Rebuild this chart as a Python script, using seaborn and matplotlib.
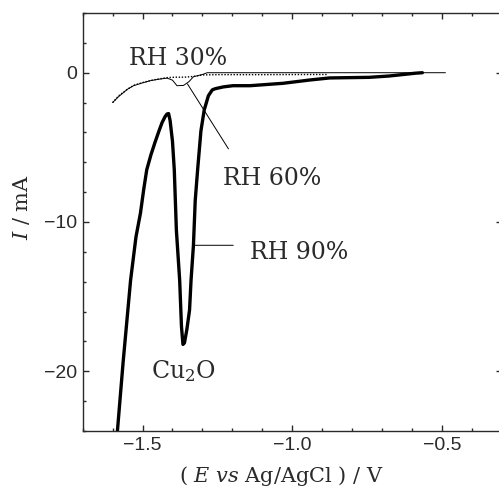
import numpy as np
import pandas as pd
import matplotlib
matplotlib.use("Agg")
import matplotlib.pyplot as plt
import seaborn as sns
from matplotlib.ticker import MultipleLocator

# ---- data ----
E90 = [-1.584, -1.565, -1.540, -1.522, -1.507, -1.496, -1.486, -1.472, -1.459,
       -1.446, -1.435, -1.425, -1.418, -1.413,
       -1.408, -1.400, -1.394, -1.387, -1.376, -1.370, -1.365, -1.360, -1.352,
       -1.343, -1.338, -1.330, -1.324, -1.316, -1.305, -1.294, -1.280, -1.267,
       -1.257, -1.230, -1.198, -1.141, -1.031, -0.942, -0.875, -0.743, -0.676,
       -0.587, -0.565]
I90 = [-24.0, -19.4, -13.9, -11.0, -9.4, -7.8, -6.5, -5.5, -4.7,
       -3.95, -3.35, -2.95, -2.76, -2.74,
       -3.2, -4.6, -6.5, -10.55, -13.9, -17.0, -18.2, -18.1, -17.2,
       -15.9, -13.9, -11.56, -8.55, -6.5, -3.9, -2.5, -1.54, -1.15,
       -1.07, -0.95, -0.87, -0.87, -0.71, -0.49, -0.35, -0.31, -0.22,
       -0.03, 0.0]

E60 = [-1.600, -1.580, -1.550, -1.530, -1.500, -1.473, -1.450, -1.418, -1.400,
       -1.385, -1.363, -1.345, -1.330, -1.300, -1.284, -1.200, -1.000, -0.800,
       -0.600, -0.488]
I60 = [-2.0, -1.6, -1.1, -0.87, -0.68, -0.53, -0.45, -0.36, -0.5,
       -0.87, -0.85, -0.6, -0.27, -0.12, 0.0, 0.0, 0.0, 0.0,
       0.0, 0.0]

E30 = [-1.600, -1.580, -1.550, -1.530, -1.500, -1.473, -1.450, -1.418, -1.390,
       -1.360, -1.330, -1.300, -1.250, -1.100, -0.950, -0.880]
I30 = [-2.0, -1.55, -1.1, -0.85, -0.66, -0.52, -0.43, -0.33, -0.30,
       -0.30, -0.25, -0.15, -0.13, -0.13, -0.12, -0.12]

labels = ["RH 30%", "RH 60%", "RH 90%"]
x_major = 0.5
x_minor = 0.1
y_major = 10
y_minor = 2

sns.set_theme(style="ticks")
plt.rcParams["font.family"] = ["Liberation Sans", "DejaVu Sans"]
plt.rcParams["mathtext.fontset"] = "custom"
plt.rcParams["mathtext.rm"] = "DejaVu Serif"
plt.rcParams["mathtext.it"] = "DejaVu Serif:italic"

dark = "#2a2a2a"
fig = plt.figure(figsize=(4.99, 4.88), dpi=100)
ax = fig.add_axes([82.7 / 499, 57 / 488, (501.7 - 82.7) / 499, (431 - 13) / 488])

df30 = pd.DataFrame({"E": E30, "I": I30})
df60 = pd.DataFrame({"E": E60, "I": I60})
df90 = pd.DataFrame({"E": E90, "I": I90})

sns.lineplot(data=df30, x="E", y="I", sort=False, estimator=None, ax=ax,
             color="black", lw=1.0, linestyle=(0, (1, 1.2)))
sns.lineplot(data=df60, x="E", y="I", sort=False, estimator=None, ax=ax,
             color="black", lw=0.7)
sns.lineplot(data=df90, x="E", y="I", sort=False, estimator=None, ax=ax,
             color="black", lw=2.4)

ax.set_xlim(-1.7, -0.3)
ax.set_ylim(-24, 4)
ax.xaxis.set_major_locator(MultipleLocator(x_major))
ax.xaxis.set_minor_locator(MultipleLocator(x_minor))
ax.yaxis.set_major_locator(MultipleLocator(y_major))
ax.yaxis.set_minor_locator(MultipleLocator(y_minor))
ax.tick_params(which="both", direction="in", top=True, right=True,
               color=dark, labelcolor=dark, labelsize=14, width=1.0, pad=4)
ax.tick_params(which="major", length=4.5)
ax.tick_params(which="minor", length=2.2)
for s in ax.spines.values():
    s.set_color(dark)
    s.set_linewidth(1.0)

serif = ["DejaVu Serif"]
tfs = 17
ax.text(-1.5455, 0.534, labels[0], family=serif, fontsize=tfs, color=dark,
        ha="left", va="baseline")
ax.text(-1.231, -7.55, labels[1], family=serif, fontsize=tfs, color=dark,
        ha="left", va="baseline")
ax.text(-1.141, -12.45, labels[2], family=serif, fontsize=tfs, color=dark,
        ha="left", va="baseline")
ax.text(-1.471, -20.46, r"Cu$_{\mathregular{2}}$O", family=serif, fontsize=tfs,
        color=dark, ha="left", va="baseline")

ax.annotate("", xy=(-1.35, -0.75), xytext=(-1.213, -5.1),
            arrowprops=dict(arrowstyle="-", color="black", lw=0.7,
                            shrinkA=0, shrinkB=0))
ax.annotate("", xy=(-1.33, -11.56), xytext=(-1.197, -11.56),
            arrowprops=dict(arrowstyle="-", color="black", lw=0.7,
                            shrinkA=0, shrinkB=0))

ax.set_xlabel(r"( $\mathit{E}$ $\mathit{vs}$ Ag/AgCl ) / V", family=serif,
              fontsize=15, color=dark, va="center", ha="center")
ax.xaxis.set_label_coords(0.475, -0.108)
ax.set_ylabel(r"$\mathit{I}$ / mA", family=serif, fontsize=15, color=dark,
              va="center", ha="center")
ax.yaxis.set_label_coords(-0.145, 0.536)

fig.savefig("out.png", dpi=100)
